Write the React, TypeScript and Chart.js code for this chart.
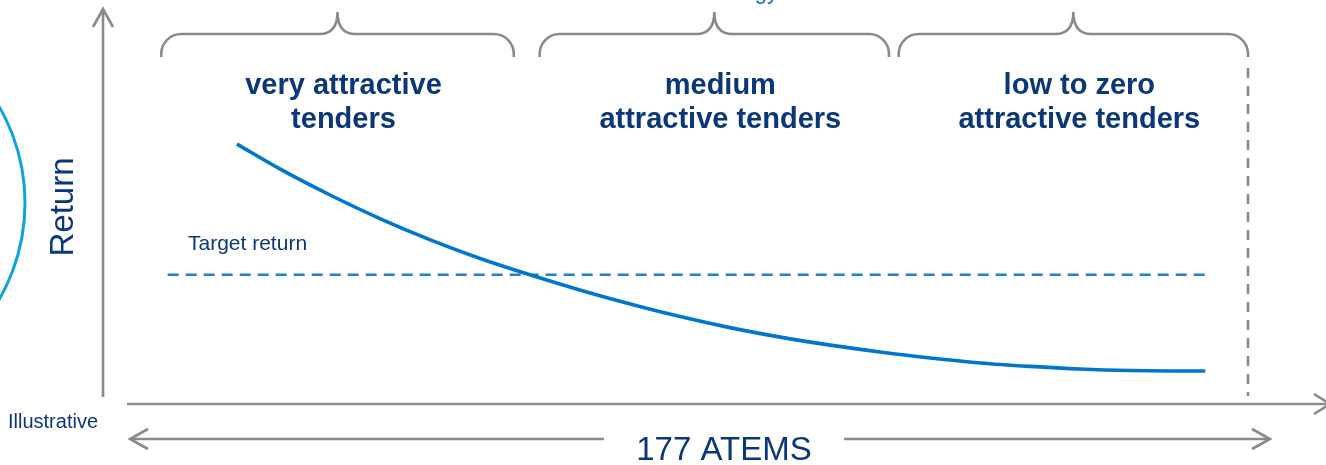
import { useEffect, useRef } from "react";
import { Chart, registerables } from "chart.js";

Chart.register(...registerables);

// Return curve: tenders ranked by attractiveness (x) against expected return (y)
const tenderRank = [
  20.7, 27.4, 35.1, 42.8, 50.6, 58.3, 66.0, 73.7, 81.5, 89.2, 96.9,
  104.7, 112.4, 120.1, 127.9, 135.6, 143.3, 151.0, 158.8, 165.0, 170.4,
];
const returnLevel = [
  68.4, 61.8, 55.0, 48.8, 43.2, 38.3, 34.0, 30.0, 26.3, 23.0, 20.1,
  17.6, 15.5, 13.7, 12.1, 10.8, 9.9, 9.2, 8.8, 8.7, 8.7,
];

// Target return threshold
const targetRank = [10, 170.5];
const targetLevel = [34, 34];

const totalTenders = 177;

// Attractiveness bands (in tender rank units)
const bandStart = [9, 67.5, 123];
const bandEnd = [63.5, 121.5, 177];
const bandLabels = [
  ["very attractive", "tenders"],
  ["medium", "attractive tenders"],
  ["low to zero", "attractive tenders"],
];

const NAVY = "#0a3778";
const GREY = "#8a8a8a";
const FONT = "'Liberation Sans', Arial, sans-serif";

const decorations = {
  id: "decorations",
  afterDraw(chart: any) {
    const { ctx, chartArea, scales } = chart;
    const xs = scales.x;
    const x0 = xs.getPixelForValue(0);
    const xEnd = xs.getPixelForValue(totalTenders);
    const base = chartArea.bottom;

    ctx.save();
    ctx.strokeStyle = GREY;
    ctx.lineWidth = 2.6;
    ctx.lineJoin = "miter";

    // vertical axis with arrow
    ctx.beginPath();
    ctx.moveTo(x0, base - 7);
    ctx.lineTo(x0, 9);
    ctx.stroke();
    ctx.beginPath();
    ctx.moveTo(x0 - 10, 27);
    ctx.lineTo(x0, 9);
    ctx.lineTo(x0 + 10, 27);
    ctx.stroke();

    // horizontal axis with arrow
    ctx.beginPath();
    ctx.moveTo(x0 + 24, base);
    ctx.lineTo(1330, base);
    ctx.stroke();
    ctx.beginPath();
    ctx.moveTo(1314, base - 10);
    ctx.lineTo(1330, base);
    ctx.lineTo(1314, base + 10);
    ctx.stroke();

    // total count double arrow
    const ya = base + 35;
    ctx.beginPath();
    ctx.moveTo(130, ya);
    ctx.lineTo(604, ya);
    ctx.moveTo(844, ya);
    ctx.lineTo(1270, ya);
    ctx.stroke();
    ctx.beginPath();
    ctx.moveTo(148, ya - 10);
    ctx.lineTo(130, ya);
    ctx.lineTo(148, ya + 10);
    ctx.moveTo(1252, ya - 10);
    ctx.lineTo(1270, ya);
    ctx.lineTo(1252, ya + 10);
    ctx.stroke();

    // end of tender list
    ctx.setLineDash([10, 8]);
    ctx.beginPath();
    ctx.moveTo(xEnd, 68);
    ctx.lineTo(xEnd, base - 8);
    ctx.stroke();
    ctx.setLineDash([]);

    // braces over each band
    const yTop = 12, yBar = 34, yFoot = 57, r = 20, s = 18;
    bandStart.forEach((b, i) => {
      const a = xs.getPixelForValue(b);
      const e = xs.getPixelForValue(bandEnd[i]);
      const tip = (a + e) / 2;
      ctx.beginPath();
      ctx.moveTo(a, yFoot);
      ctx.arcTo(a, yBar, a + r, yBar, r);
      ctx.lineTo(tip - s, yBar);
      ctx.quadraticCurveTo(tip, yBar, tip, yTop);
      ctx.quadraticCurveTo(tip, yBar, tip + s, yBar);
      ctx.lineTo(e - r, yBar);
      ctx.arcTo(e, yBar, e, yFoot, r);
      ctx.lineTo(e, yFoot);
      ctx.stroke();

      ctx.fillStyle = NAVY;
      ctx.font = `bold 29px ${FONT}`;
      ctx.textAlign = "center";
      ctx.textBaseline = "alphabetic";
      ctx.fillText(bandLabels[i][0], tip + 6, 94);
      ctx.fillText(bandLabels[i][1], tip + 6, 128);
    });

    // heading above the braces
    ctx.fillStyle = "#1a62b8";
    ctx.font = `22px ${FONT}`;
    ctx.textAlign = "right";
    ctx.fillText("Tender strategy", 778, -1);

    // circle on the left
    ctx.strokeStyle = "#0aa5e0";
    ctx.lineWidth = 3;
    ctx.beginPath();
    ctx.arc(-168, 203, 193, -0.7, 0.7);
    ctx.stroke();

    // axis title
    ctx.fillStyle = NAVY;
    ctx.font = `33px ${FONT}`;
    ctx.save();
    ctx.translate(73, 207);
    ctx.rotate(-Math.PI / 2);
    ctx.textAlign = "center";
    ctx.fillText("Return", 0, 0);
    ctx.restore();

    // small labels
    ctx.textAlign = "left";
    ctx.font = `21px ${FONT}`;
    ctx.fillText("Target return", 188, 250);
    ctx.font = `20px ${FONT}`;
    ctx.fillText("Illustrative", 8, 428);

    ctx.textAlign = "center";
    ctx.font = `33px ${FONT}`;
    ctx.fillText(`${totalTenders} ATEMS`, 724, 460);

    ctx.restore();
  },
};

export default function App() {
  const canvasRef = useRef<HTMLCanvasElement | null>(null);

  useEffect(() => {
    const canvas = canvasRef.current;
    if (!canvas) return;
    const chart = new Chart(canvas, {
      type: "line",
      data: {
        datasets: [
          {
            label: "Return",
            data: tenderRank.map((x, i) => ({ x, y: returnLevel[i] })),
            borderColor: "#0077cc",
            borderWidth: 3.6,
            pointRadius: 0,
            cubicInterpolationMode: "monotone",
            fill: false,
          },
          {
            label: "Target return",
            data: targetRank.map((x, i) => ({ x, y: targetLevel[i] })),
            borderColor: "#1f80d0",
            borderWidth: 2.5,
            borderDash: [11, 7],
            pointRadius: 0,
            fill: false,
          },
        ],
      },
      options: {
        animation: false,
        responsive: false,
        devicePixelRatio: 1,
        layout: { padding: { left: 103, right: 78, top: 24, bottom: 61 } },
        scales: {
          x: { type: "linear", min: 0, max: totalTenders, display: false },
          y: { type: "linear", min: 0, max: 100, display: false },
        },
        plugins: {
          legend: { display: false },
          tooltip: { enabled: false },
        },
      },
      plugins: [decorations],
    });
    return () => chart.destroy();
  }, []);

  return (
    <div style={{ position: "fixed", left: 0, top: 0, width: 1326, height: 465, background: "#fff" }}>
      <canvas ref={canvasRef} width={1326} height={465} style={{ display: "block" }} />
    </div>
  );
}
